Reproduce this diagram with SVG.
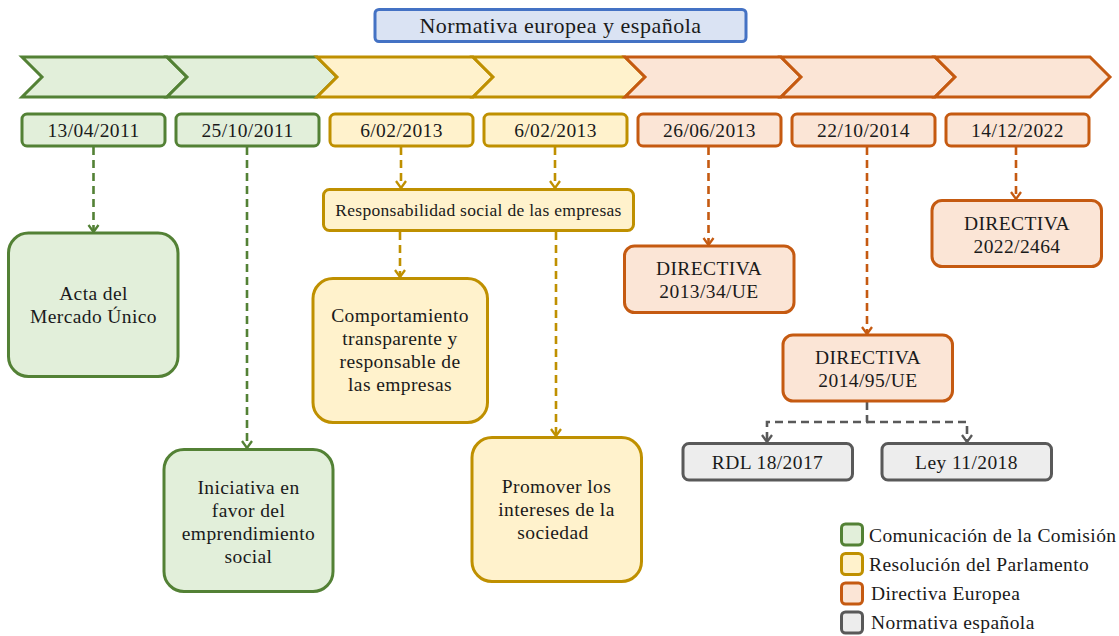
<svg xmlns="http://www.w3.org/2000/svg" width="1119" height="636" viewBox="0 0 1119 636" font-family="'Liberation Serif', 'DejaVu Serif', serif">
  <defs>
    <style>
      text { font-family: 'Liberation Serif', 'DejaVu Serif', serif; fill: #1a1a1a; text-anchor: middle; }
      .t { font-size: 19.5px; letter-spacing: 0.4px; }
      .small { font-size: 17.5px; letter-spacing: 0.3px; }
      .title { font-size: 22px; letter-spacing: 0.5px; }
      .leg { font-size: 19.5px; letter-spacing: 0.4px; text-anchor: start; }
      .g { fill: #e2efda; stroke: #538135; stroke-width: 3; }
      .y { fill: #fff2cc; stroke: #bf9000; stroke-width: 3; }
      .o { fill: #fbe5d6; stroke: #c55a11; stroke-width: 3; }
      .k { fill: #ededed; stroke: #595959; stroke-width: 3; }
      .b { fill: #dae3f3; stroke: #4472c4; stroke-width: 3; }
      .chev { stroke-linejoin: miter; }
      .c { fill: none; stroke-width: 2.6; stroke-dasharray: 8 5; }
      .cg { stroke: #538135; marker-end: url(#ag); }
      .cy { stroke: #bf9000; marker-end: url(#ay); }
      .co { stroke: #c55a11; marker-end: url(#ao); }
      .ck { stroke: #595959; marker-end: url(#ak); }
    </style>
    <marker id="ag" markerUnits="userSpaceOnUse" viewBox="-10 -8 12 16" markerWidth="12" markerHeight="16" refX="0" refY="0" orient="auto">
      <path d="M-7,-5 L0,0 L-7,5" fill="none" stroke="#538135" stroke-width="2.3"/>
    </marker>
    <marker id="ay" markerUnits="userSpaceOnUse" viewBox="-10 -8 12 16" markerWidth="12" markerHeight="16" refX="0" refY="0" orient="auto">
      <path d="M-7,-5 L0,0 L-7,5" fill="none" stroke="#bf9000" stroke-width="2.3"/>
    </marker>
    <marker id="ao" markerUnits="userSpaceOnUse" viewBox="-10 -8 12 16" markerWidth="12" markerHeight="16" refX="0" refY="0" orient="auto">
      <path d="M-7,-5 L0,0 L-7,5" fill="none" stroke="#c55a11" stroke-width="2.3"/>
    </marker>
    <marker id="ak" markerUnits="userSpaceOnUse" viewBox="-10 -8 12 16" markerWidth="12" markerHeight="16" refX="0" refY="0" orient="auto">
      <path d="M-7,-5 L0,0 L-7,5" fill="none" stroke="#595959" stroke-width="2.3"/>
    </marker>
  </defs>

  <rect width="1119" height="636" fill="#ffffff"/>

  <!-- title -->
  <g id="title">
    <rect class="b" x="375" y="9.5" width="371" height="32" rx="4"/>
    <text class="title" x="560.5" y="33">Normativa europea y española</text>
  </g>

  <!-- timeline band -->
  <g id="timeline">
    <path class="g chev" d="M22,57 H167 L187,77 L167,97 H22 L42,77 Z"/>
    <path class="g chev" d="M167,57 H317 L337,77 L317,97 H167 L187,77 Z"/>
    <path class="y chev" d="M317,57 H473 L493,77 L473,97 H317 L337,77 Z"/>
    <path class="y chev" d="M473,57 H625 L645,77 L625,97 H473 L493,77 Z"/>
    <path class="o chev" d="M625,57 H781 L801,77 L781,97 H625 L645,77 Z"/>
    <path class="o chev" d="M781,57 H935 L955,77 L935,97 H781 L801,77 Z"/>
    <path class="o chev" d="M935,57 H1090 L1110,77 L1090,97 H935 L955,77 Z"/>
  </g>

  <!-- dates -->
  <g id="d1"><rect class="g" x="22" y="114" width="143" height="32" rx="5"/><text class="t" x="93.5" y="137">13/04/2011</text></g>
  <g id="d2"><rect class="g" x="176" y="114" width="143" height="32" rx="5"/><text class="t" x="247.5" y="137">25/10/2011</text></g>
  <g id="d3"><rect class="y" x="330" y="114" width="143" height="32" rx="5"/><text class="t" x="401.5" y="137">6/02/2013</text></g>
  <g id="d4"><rect class="y" x="484" y="114" width="143" height="32" rx="5"/><text class="t" x="555.5" y="137">6/02/2013</text></g>
  <g id="d5"><rect class="o" x="638" y="114" width="143" height="32" rx="5"/><text class="t" x="709.5" y="137">26/06/2013</text></g>
  <g id="d6"><rect class="o" x="792" y="114" width="143" height="32" rx="5"/><text class="t" x="863.5" y="137">22/10/2014</text></g>
  <g id="d7"><rect class="o" x="946" y="114" width="143" height="32" rx="5"/><text class="t" x="1017.5" y="137">14/12/2022</text></g>

  <!-- connectors -->
  <g id="connectors">
    <path class="c cg" d="M93.5,147 V232"/>
    <path class="c cg" d="M247,147 V448"/>
    <path class="c cy" d="M401,147 V188"/>
    <path class="c cy" d="M555,147 V188"/>
    <path class="c cy" d="M400,232 V277"/>
    <path class="c cy" d="M556,232 V436"/>
    <path class="c co" d="M708.5,147 V245"/>
    <path class="c co" d="M867,147 V334"/>
    <path class="c co" d="M1016,147 V199"/>
    <path class="c ck" d="M867,402 V422 H767 V442"/>
    <path class="c ck" d="M867,422 H967 V442"/>
  </g>

  <!-- Comunicaciones de la Comisión -->
  <g id="acta">
    <rect class="g" x="8.5" y="233" width="169.5" height="143.5" rx="20"/>
    <text class="t" x="93.5" y="300">Acta del</text>
    <text class="t" x="93.5" y="323">Mercado Único</text>
  </g>
  <g id="iniciativa">
    <rect class="g" x="164" y="449.5" width="169" height="142" rx="20"/>
    <text class="t" x="248.5" y="494">Iniciativa en</text>
    <text class="t" x="248.5" y="517">favor del</text>
    <text class="t" x="248.5" y="540">emprendimiento</text>
    <text class="t" x="248.5" y="563">social</text>
  </g>

  <!-- Resoluciones del Parlamento -->
  <g id="responsabilidad">
    <rect class="y" x="323.5" y="189.5" width="310" height="41" rx="6"/>
    <text class="small" x="478.5" y="216">Responsabilidad social de las empresas</text>
  </g>
  <g id="comportamiento">
    <rect class="y" x="313" y="278.5" width="174.5" height="144" rx="20"/>
    <text class="t" x="400" y="322">Comportamiento</text>
    <text class="t" x="400" y="345">transparente y</text>
    <text class="t" x="400" y="368">responsable de</text>
    <text class="t" x="400" y="391">las empresas</text>
  </g>
  <g id="promover">
    <rect class="y" x="472" y="437.5" width="169.5" height="144" rx="20"/>
    <text class="t" x="556.5" y="493">Promover los</text>
    <text class="t" x="556.5" y="516">intereses de la</text>
    <text class="t" x="553" y="539">sociedad</text>
  </g>

  <!-- Directivas europeas -->
  <g id="dir2013">
    <rect class="o" x="624.5" y="246" width="169.5" height="66.5" rx="10"/>
    <text class="t" x="709" y="275">DIRECTIVA</text>
    <text class="t" x="709" y="298">2013/34/UE</text>
  </g>
  <g id="dir2014">
    <rect class="o" x="783" y="335" width="169.5" height="66" rx="10"/>
    <text class="t" x="868" y="364">DIRECTIVA</text>
    <text class="t" x="868" y="387">2014/95/UE</text>
  </g>
  <g id="dir2022">
    <rect class="o" x="932" y="200.5" width="169.5" height="66" rx="10"/>
    <text class="t" x="1017" y="229.5">DIRECTIVA</text>
    <text class="t" x="1017" y="252.5">2022/2464</text>
  </g>

  <!-- Normativa española -->
  <g id="rdl">
    <rect class="k" x="683" y="443.5" width="169.5" height="36.5" rx="6"/>
    <text class="t" x="767.5" y="468.5">RDL 18/2017</text>
  </g>
  <g id="ley">
    <rect class="k" x="882" y="443.5" width="169.5" height="36.5" rx="6"/>
    <text class="t" x="966.5" y="468.5">Ley 11/2018</text>
  </g>

  <!-- legend -->
  <g id="legend">
    <rect class="g" x="841.5" y="524" width="21" height="21" rx="4"/>
    <text class="leg" x="869" y="542">Comunicación de la Comisión</text>
    <rect class="y" x="841.5" y="553.5" width="21" height="21" rx="4"/>
    <text class="leg" x="869" y="571">Resolución del Parlamento</text>
    <rect class="o" x="841.5" y="583" width="21" height="21" rx="4"/>
    <text class="leg" x="871" y="600">Directiva Europea</text>
    <rect class="k" x="841.5" y="612" width="21" height="21" rx="4"/>
    <text class="leg" x="871" y="628.5">Normativa española</text>
  </g>
</svg>
